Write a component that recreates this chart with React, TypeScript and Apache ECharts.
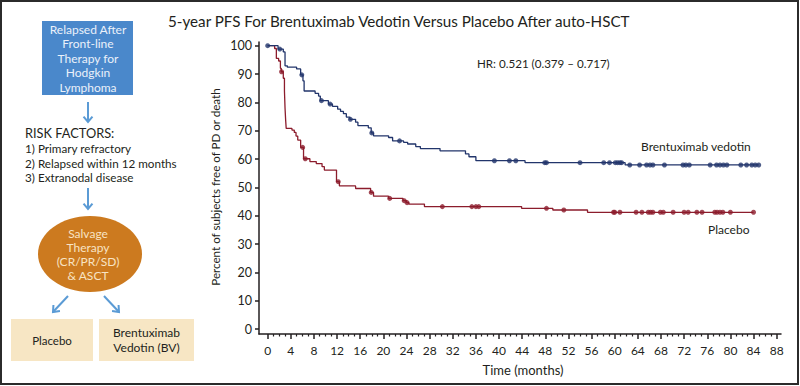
import React, { useEffect, useRef } from "react";
import * as echarts from "echarts";

// ---- Data ----
const xTicks = [0, 4, 8, 12, 16, 20, 24, 28, 32, 36, 40, 44, 48, 52, 56, 60, 64, 68, 72, 76, 80, 84, 88];
const yTicks = [0, 10, 20, 30, 40, 50, 60, 70, 80, 90, 100];

// Kaplan-Meier step points [month, percent] for Brentuximab vedotin
const bvSteps: [number, number][] = [
  [0, 100], [1.8, 98.8], [2.7, 97.8], [3.0, 92.9], [3.4, 92.4], [5.0, 91.8], [5.7, 89.7], [6.1, 87.6],
  [6.3, 84.0], [8.2, 83.2], [8.8, 82.2], [9.1, 80.6], [10.5, 79.4], [11.2, 78.6], [12.1, 77.6],
  [12.6, 76.8], [13.1, 76.0], [13.6, 74.8], [14.2, 74.0], [15.2, 73.0], [15.6, 71.8], [17.4, 71.0],
  [17.9, 69.2], [18.3, 68.2], [20.9, 67.6], [21.6, 66.4], [23.5, 65.9], [24.2, 65.3], [25.6, 64.4],
  [26.4, 63.7], [29.8, 62.9], [34.2, 61.8], [34.8, 60.8], [36.0, 59.4], [44.5, 58.7], [61.8, 57.9],
  [84.9, 57.9],
];
// Censored observations for Brentuximab vedotin
const bvCensored: [number, number][] = [
  [0, 100], [2.1, 98.8], [5.9, 89.7], [9.3, 80.6], [10.8, 79.4], [14.3, 74.0], [18.0, 69.2], [22.8, 66.4],
  [39.2, 59.4], [41.8, 59.4], [42.9, 59.4], [47.9, 58.7], [48.2, 58.7], [54.0, 58.7], [58.1, 58.7],
  [59.1, 58.7], [60.1, 58.7], [60.5, 58.7], [60.9, 58.7], [61.2, 58.7], [62.6, 57.9], [64.3, 57.9],
  [65.5, 57.9], [66.1, 57.9], [66.6, 57.9], [68.6, 57.9], [71.8, 57.9], [72.3, 57.9], [72.9, 57.9],
  [76.5, 57.9], [77.6, 57.9], [78.2, 57.9], [78.8, 57.9], [79.4, 57.9], [81.8, 57.9], [82.8, 57.9],
  [83.7, 57.9], [84.3, 57.9], [84.9, 57.9],
];

// Kaplan-Meier step points for Placebo
const pbSteps: [number, number][] = [
  [0, 100], [1.2, 99.0], [1.5, 95.5], [1.9, 94.6], [2.2, 92.0], [2.35, 90.8], [2.7, 88.5], [2.9, 84.0],
  [3.0, 78.0], [3.1, 74.0], [3.2, 70.8], [4.2, 70.2], [4.6, 69.4], [4.9, 68.1], [5.2, 66.7], [5.7, 64.1],
  [6.2, 60.1], [7.3, 59.1], [8.4, 58.4], [9.4, 57.3], [9.8, 56.1], [11.9, 52.0], [12.4, 50.5],
  [15.2, 49.6], [17.8, 48.2], [18.3, 46.9], [20.9, 46.1], [23.4, 45.3], [24.0, 44.6], [24.4, 44.1],
  [27.1, 43.2], [43.9, 42.6], [49.3, 42.0], [55.3, 41.2], [84.0, 41.2],
];
const pbCensored: [number, number][] = [
  [2.4, 90.8], [6.05, 64.1], [6.5, 60.1], [12.2, 52.0], [17.9, 48.2], [21.1, 46.1], [23.6, 45.3],
  [24.1, 44.6], [30.2, 43.2], [35.3, 43.2], [36.0, 43.2], [36.5, 43.2], [48.2, 42.6], [51.2, 42.0],
  [59.8, 41.2], [60.0, 41.2], [60.9, 41.2], [63.7, 41.2], [64.7, 41.2], [65.8, 41.2], [66.2, 41.2],
  [66.6, 41.2], [67.9, 41.2], [68.4, 41.2], [70.1, 41.2], [72.0, 41.2], [72.7, 41.2], [74.2, 41.2],
  [75.1, 41.2], [77.3, 41.2], [77.7, 41.2], [78.2, 41.2], [78.7, 41.2], [80.0, 41.2], [84.0, 41.2],
];

const titleText = "5-year PFS For Brentuximab Vedotin Versus Placebo After auto-HSCT";
const hrText = "HR: 0.521 (0.379 \u2013 0.717)";
const bvName = "Brentuximab vedotin";
const pbName = "Placebo";
const yTitle = "Percent of subjects free of PD or death";
const xTitle = "Time (months)";

const BV_COLOR = "#22356b";
const PB_COLOR = "#8c1c2c";
const ARROW = "#5b9bd5";
const FONT = "Lato";
const TXT = "#231f20";

const minorTicks = Array.from({ length: 89 }, (_, i) => i).filter((v) => v % 4 !== 0);

function arrow(x1: number, y1: number, x2: number, y2: number) {
  const ang = Math.atan2(y2 - y1, x2 - x1);
  const h = 7;
  const a1 = ang + Math.PI * 0.78;
  const a2 = ang - Math.PI * 0.78;
  return [
    { type: "line", shape: { x1, y1, x2, y2 }, style: { stroke: ARROW, lineWidth: 2 } },
    {
      type: "polyline",
      shape: { points: [[x2 + h * Math.cos(a1), y2 + h * Math.sin(a1)], [x2, y2], [x2 + h * Math.cos(a2), y2 + h * Math.sin(a2)]] },
      style: { stroke: ARROW, lineWidth: 2, fill: null },
    },
  ];
}

export default function App() {
  const ref = useRef<HTMLDivElement>(null);
  useEffect(() => {
    if (!ref.current) return;
    const chart = echarts.init(ref.current, null, { renderer: "svg" });
    const tx = (text: string, x: number, y: number, size: number, fill: string, align = "left", extra: any = {}) => ({
      type: "text",
      x,
      y,
      style: { text, fill, font: `${size}px ${FONT}`, align, verticalAlign: "middle", ...extra },
    });
    chart.setOption({
      animation: false,
      backgroundColor: "#ffffff",
      title: {
        text: titleText,
        left: 163,
        top: 8,
        textStyle: { fontFamily: FONT, fontSize: 15.2, fontWeight: "normal", color: TXT },
      },
      grid: { left: 259, right: 19, top: 42, bottom: 52 },
      xAxis: [
        {
          type: "value",
          min: -1.5,
          max: 88.75,
          position: "bottom",
          splitLine: { show: false },
          axisLine: { onZero: false, lineStyle: { color: TXT, width: 1.5 } },
          axisTick: { customValues: xTicks, length: 5, lineStyle: { color: TXT, width: 1.5 } },
          axisLabel: { customValues: xTicks, margin: 10, fontFamily: FONT, fontSize: 12, color: TXT },
        },
        {
          type: "value",
          min: -1.5,
          max: 88.75,
          position: "bottom",
          offset: 0,
          splitLine: { show: false },
          axisLine: { show: false, onZero: false },
          axisTick: { customValues: minorTicks, length: 2.5, lineStyle: { color: TXT, width: 1.2 } },
          axisLabel: { show: false },
        },
      ],
      yAxis: {
        type: "value",
        min: -1.76,
        max: 101.3,
        splitLine: { show: false },
        axisLine: { show: true, onZero: false, lineStyle: { color: TXT, width: 1.5 } },
        axisTick: { show: true, customValues: yTicks, length: 4, lineStyle: { color: TXT, width: 1.5 } },
        axisLabel: { customValues: yTicks, margin: 7, fontFamily: FONT, fontSize: 12.5, color: TXT },
      },
      series: [
        {
          name: pbName,
          type: "line",
          step: "end",
          data: pbSteps,
          showSymbol: false,
          lineStyle: { color: PB_COLOR, width: 1.3 },
          z: 2,
        },
        {
          name: pbName + " censored",
          type: "scatter",
          data: pbCensored,
          symbolSize: 5,
          itemStyle: { color: PB_COLOR },
          z: 3,
        },
        {
          name: bvName,
          type: "line",
          step: "end",
          data: bvSteps,
          showSymbol: false,
          lineStyle: { color: BV_COLOR, width: 1.3 },
          z: 4,
        },
        {
          name: bvName + " censored",
          type: "scatter",
          data: bvCensored,
          symbolSize: 5,
          itemStyle: { color: BV_COLOR },
          z: 5,
        },
      ],
      graphic: [
        // frame
        { type: "rect", shape: { x: 1, y: 1, width: 797, height: 383 }, style: { fill: null, stroke: "#2b2b2b", lineWidth: 2 }, z: 100 },
        // annotations
        tx(hrText, 477, 63, 11.6, TXT),
        tx(bvName, 641, 146, 12, TXT),
        tx(pbName, 708, 229, 12, TXT),
        { type: "text", x: 215, y: 187, rotation: Math.PI / 2, style: { text: yTitle, fill: TXT, font: `11.6px ${FONT}`, align: "center", verticalAlign: "middle" } },
        tx(xTitle, 523, 370, 13, TXT, "center"),
        // flowchart
        { type: "rect", shape: { x: 42, y: 21, width: 91, height: 74 }, style: { fill: "#4a88cb" } },
        { type: "text", x: 88, y: 58, style: { text: "Relapsed After\nFront-line\nTherapy for\nHodgkin\nLymphoma", fill: "#eaf1fa", font: `12px ${FONT}`, align: "center", verticalAlign: "middle", lineHeight: 14.5 } },
        ...arrow(88, 102, 88, 122),
        tx("RISK FACTORS:", 25, 133, 12.8, TXT),
        tx("1) Primary refractory", 25, 148, 11.7, TXT),
        tx("2) Relapsed within 12 months", 25, 163, 11.7, TXT),
        tx("3) Extranodal disease", 25, 177, 11.7, TXT),
        ...arrow(88, 188, 88, 209),
        { type: "ellipse", shape: { cx: 90, cy: 254, rx: 52, ry: 38 }, style: { fill: "#cc7a1f" } },
        { type: "text", x: 88, y: 254, style: { text: "Salvage\nTherapy\n(CR/PR/SD)\n& ASCT", fill: "#f8e3c3", font: `12px ${FONT}`, align: "center", verticalAlign: "middle", lineHeight: 14 } },
        ...arrow(68, 296, 53, 312),
        ...arrow(104, 296, 119, 312),
        { type: "rect", shape: { x: 11, y: 319, width: 82, height: 42 }, style: { fill: "#f7e6c4" } },
        { type: "rect", shape: { x: 99, y: 319, width: 95, height: 42 }, style: { fill: "#f7e6c4" } },
        tx("Placebo", 52, 340, 11.5, TXT, "center"),
        { type: "text", x: 146.5, y: 340, style: { text: "Brentuximab\nVedotin (BV)", fill: TXT, font: `12px ${FONT}`, align: "center", verticalAlign: "middle", lineHeight: 14.5 } },
      ],
    });
    return () => chart.dispose();
  }, []);
  return <div ref={ref} style={{ position: "fixed", left: 0, top: 0, width: 800, height: 386 }} />;
}
